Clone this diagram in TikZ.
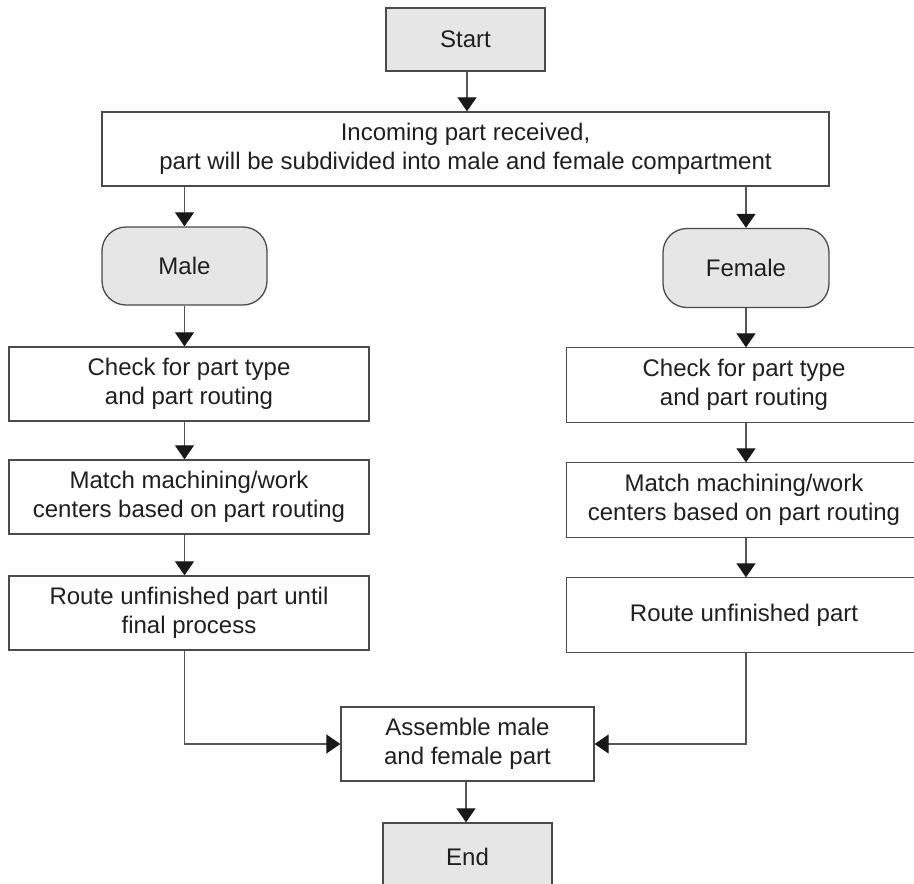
\documentclass[tikz,border=0pt]{standalone}
\usepackage{fontspec}
\setmainfont{Liberation Sans}
\usetikzlibrary{arrows.meta}
\definecolor{boxline}{HTML}{4A4A4A}
\definecolor{boxfill}{HTML}{E6E6E6}
\definecolor{conn}{HTML}{555555}
\tikzset{
  box/.style={draw=boxline, line width=1.3pt, fill=white, align=center, inner sep=0pt,
    font=\fontsize{24}{29}\selectfont, text=black!88},
  openbox/.style={box, draw=none},
  edge/.style={draw=boxline, line width=1.3pt},
  greybox/.style={box, fill=boxfill},
  roundbox/.style={box, fill=boxfill, rounded corners=24pt},
  arr/.style={draw=conn, line width=1.2pt, -{Triangle[width=19pt,length=14pt,fill=black!90,color=black!90]}},
}
\begin{document}
\begin{tikzpicture}[x=1pt,y=-1pt]
\useasboundingbox (0,0) rectangle (914,884);
\clip (0,0) rectangle (914,884);
\node[greybox, minimum width=159pt, minimum height=63pt] (start) at (465.5,39.5) {Start};
\node[box, minimum width=727pt, minimum height=74pt] (inc) at (465.5,149) {Incoming part received,\\part will be subdivided into male and female compartment};
\node[roundbox, minimum width=165pt, minimum height=78pt] (male) at (184.5,266) {Male};
\node[roundbox, minimum width=166pt, minimum height=79pt] (female) at (746,268) {Female};
\node[box, minimum width=360pt, minimum height=74pt] (chkL) at (189,384) {Check for part type\\and part routing};
\node[openbox, minimum width=354pt, minimum height=74pt] (chkR) at (744,385) {Check for part type\\and part routing};
\node[box, minimum width=360pt, minimum height=74pt] (matL) at (189,497) {Match machining/work\\centers based on part routing};
\node[openbox, minimum width=354pt, minimum height=74pt] (matR) at (744,500) {Match machining/work\\centers based on part routing};
\node[box, minimum width=360pt, minimum height=74pt] (rouL) at (189,613) {Route unfinished part until\\final process};
\node[openbox, minimum width=354pt, minimum height=74pt] (rouR) at (744,615) {Route unfinished part};
\node[box, minimum width=253pt, minimum height=74pt] (asm) at (467.5,744) {Assemble male\\and female part};
\node[greybox, minimum width=169pt, minimum height=68pt] (end) at (467.5,857) {End};
% right-column boxes run past the right edge of the picture
\foreach \b in {chkR,matR,rouR}{
  \draw[edge] ([xshift=40pt]\b.north east) -- (\b.north west) -- (\b.south west) -- ([xshift=40pt]\b.south east);
}
% connectors
\draw[arr] (start.south -| 467,0) -- (inc.north -| 467,0);
\draw[arr] (inc.south -| male) -- (male.north);
\draw[arr] (inc.south -| female) -- (female.north);
\draw[arr] (male.south) -- (male.south |- chkL.north);
\draw[arr] (female.south) -- (female.south |- chkR.north);
\draw[arr] (chkL.south -| male) -- (matL.north -| male);
\draw[arr] (chkR.south -| female) -- (matR.north -| female);
\draw[arr] (matL.south -| male) -- (rouL.north -| male);
\draw[arr] (matR.south -| female) -- (rouR.north -| female);
\draw[arr] (rouL.south -| male) |- (asm.west);
\draw[arr] (rouR.south -| female) |- (asm.east);
\draw[arr] (asm.south -| 466,0) -- (end.north -| 466,0);
\end{tikzpicture}
\end{document}
